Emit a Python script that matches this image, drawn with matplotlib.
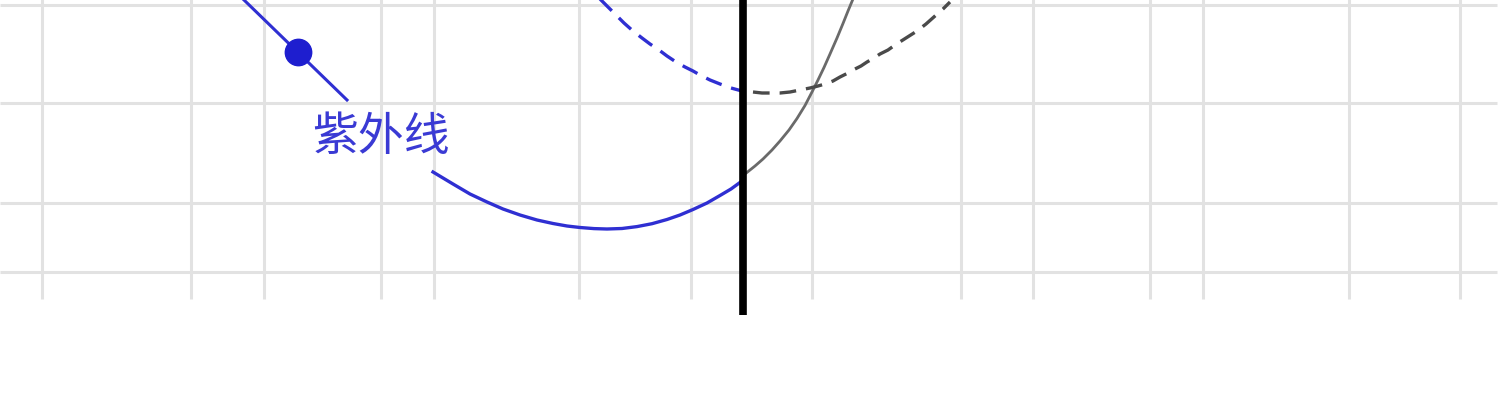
import matplotlib
matplotlib.use("Agg")
import matplotlib.pyplot as plt

plt.rcParams['font.family'] = ['Noto Sans CJK SC', 'DejaVu Sans']

# grid positions (pixel units of the original picture)
grid_x = [42, 191, 264, 381, 434, 579, 691, 812, 961, 1033, 1150, 1203, 1349, 1460]
grid_y = [6, 104, 204, 273]

# blue straight segment with its marker
uv_line_x = [243, 347]
uv_line_y = [0, 101]
uv_dot = (298, 53)
uv_label = "紫外线"

# blue solid curve (left of the black line)
blue_x = [433, 453, 470, 487, 503, 520, 537, 553, 567, 580, 594, 607, 622, 637,
          652, 667, 680, 693, 707, 720, 731, 742]
blue_y = [173, 185, 195, 203, 210, 216, 221, 224.5, 227, 228.5, 229.6, 230, 229.5, 227.6,
          224.7, 220.5, 216, 210.5, 204, 196.5, 190, 182]

# grey solid curve (right of the black line)
grey_x = [745, 755, 763, 772, 780, 789, 797, 805, 812, 818, 824, 830, 837, 843, 848, 853]
grey_y = [175, 167, 160, 151, 142, 131, 119.5, 106.5, 93, 81, 68.5, 55, 39, 24.5, 12, 0]

# blue dashed curve
bdash_x = [600, 608, 615, 624, 633, 642, 650, 659, 667, 676, 685, 693, 700, 710, 720, 731, 742]
bdash_y = [0, 8, 15, 24, 32, 39, 45, 51, 57, 63, 68, 72, 76, 81, 85, 89, 92]

# grey dashed curve
gdash_x = [753, 762, 770, 780, 790, 800, 810, 818, 825, 833, 840, 848, 855, 861, 867,
           874, 880, 888, 895, 906, 917, 926, 935, 943, 950]
gdash_y = [93, 94, 94, 94, 93, 91, 89, 87, 85, 82, 78, 74, 70, 67, 63,
           59, 55, 51, 46, 39, 32, 25, 17, 10, 3]

divider_x = 743

fig = plt.figure(figsize=(15, 4.02), dpi=100)
ax = fig.add_axes([0, 0, 1, 1])
ax.set_xlim(0, 1500)
ax.set_ylim(402, 0)
ax.axis('off')

grid_c = '#e2e2e2'
ax.vlines(grid_x, 0, 300, color=grid_c, lw=2.2, zorder=1)
ax.hlines(grid_y, 0, 1497, color=grid_c, lw=2.2, zorder=1)

blue = '#2f2fd2'
ax.plot(uv_line_x, uv_line_y, color=blue, lw=2.2, zorder=3)
ax.plot(*uv_dot, 'o', color='#1e1ecf', ms=19, zorder=4)
ax.text(312, 137, uv_label, color='#3a3ad4', fontsize=33, fontweight='medium',
        ha='left', va='center', zorder=4)

ax.plot(blue_x, blue_y, color=blue, lw=2.4, zorder=3, solid_joinstyle='round')
ax.plot(grey_x, grey_y, color='#6a6a6a', lw=2.0, zorder=3, solid_joinstyle='round')
ax.plot(bdash_x, bdash_y, color=blue, lw=2.4, ls=(0, (5, 3)), zorder=3)
ax.plot(gdash_x, gdash_y, color='#4a4a4a', lw=2.4, ls=(0, (5, 3)), zorder=3)

ax.vlines(divider_x, 0, 316, color='black', lw=5.5, zorder=5)

fig.savefig('out.png', dpi=100)
